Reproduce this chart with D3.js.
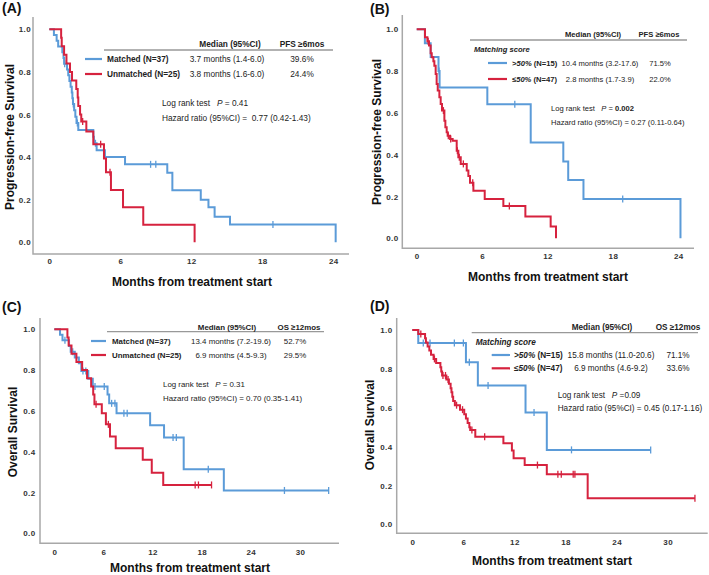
<!DOCTYPE html>
<html>
<head>
<meta charset="utf-8">
<script src="https://cdn.jsdelivr.net/npm/d3@7"></script>
<style>
  body { margin: 0; background: #fff; }
  svg { display: block; font-family: "Liberation Sans", Arial, sans-serif; }
  text { white-space: pre; }
</style>
</head>
<body>
<svg id="chart" width="709" height="575"></svg>
<script>
// ---- data ----
var survivalTicks = [0, 0.2, 0.4, 0.6, 0.8, 1.0];
var pfsMonthTicks = [0, 6, 12, 18, 24];
var osMonthTicks = [0, 6, 12, 18, 24, 30];

// (A) PFS matched / unmatched  [month, survival] after each drop
var aMatchedSteps = [[0,1],[0.39,0.973],[0.62,0.946],[0.75,0.919],[1.1,0.892],[1.2,0.865],[1.25,0.838],[1.5,0.811],[1.6,0.784],[1.7,0.757],[1.8,0.73],[1.9,0.703],[1.95,0.676],[2.0,0.649],[2.1,0.62],[2.2,0.59],[2.3,0.56],[2.45,0.527],[3.72,0.495],[3.77,0.465],[4.0,0.432],[4.7,0.40],[6.4,0.366],[9.97,0.327],[10.4,0.244],[12.8,0.20],[13.45,0.164],[13.97,0.12],[15.27,0.083],[24.2,0]];
var aMatchedCensor = [1.3, 2.03, 2.37, 3.9, 8.56, 9.0, 18.9];
var aUnmatchedSteps = [[0,1],[1.0,0.96],[1.05,0.92],[1.25,0.88],[1.45,0.84],[1.75,0.80],[1.92,0.76],[2.28,0.72],[2.4,0.68],[2.45,0.64],[2.6,0.60],[2.7,0.567],[3.13,0.52],[3.72,0.46],[4.62,0.394],[4.79,0.329],[5.21,0.246],[6.23,0.164],[7.94,0.082],[12.28,0]];
var aUnmatchedCensor = [2.82, 4.34, 5.13];

// (B) PFS by matching score
var bHighSteps = [[0,1],[0.75,0.933],[1.28,0.867],[2.0,0.80],[2.1,0.722],[6.48,0.641],[10.46,0.458],[13.45,0.368],[13.9,0.279],[15.3,0.188],[24.2,0]];
var bHighCensor = [2.05, 9.0, 18.9];
var bLowSteps = [[0,1],[0.76,0.962],[0.98,0.943],[1.13,0.922],[1.28,0.885],[1.38,0.866],[1.53,0.847],[1.62,0.826],[1.74,0.786],[1.83,0.738],[1.93,0.707],[2.08,0.675],[2.2,0.643],[2.32,0.611],[2.54,0.563],[2.63,0.531],[2.75,0.507],[2.84,0.491],[3.06,0.475],[3.3,0.467],[3.67,0.419],[3.82,0.388],[4.04,0.356],[4.59,0.324],[4.74,0.298],[4.89,0.266],[5.2,0.228],[6.24,0.188],[7.95,0.155],[9.97,0.104],[12.29,0.056],[12.78,0]];
var bLowCensor = [1.05, 2.45, 2.9, 3.12, 3.73, 3.91, 4.28, 5.14, 8.5];

// (C) OS matched / unmatched
var cMatchedSteps = [[0,1],[0.7,0.973],[1.0,0.946],[1.8,0.918],[2.0,0.89],[2.5,0.862],[3.0,0.834],[3.3,0.795],[4.15,0.758],[4.7,0.72],[6.5,0.68],[6.7,0.637],[7.6,0.588],[11.7,0.53],[13.4,0.47],[15.8,0.314],[20.7,0.21]];
var cMatchedCensor = [1.3, 2.25, 3.5, 3.85, 4.97, 6.1, 7.0, 7.4, 8.5, 8.9, 14.5, 14.9, 18.8, 28.1, 33.5];
var cUnmatchedSteps = [[0,1],[1.6,0.96],[1.75,0.92],[2.1,0.88],[2.7,0.84],[3.4,0.80],[4.0,0.76],[4.5,0.72],[4.75,0.68],[4.9,0.632],[5.8,0.588],[6.3,0.534],[6.8,0.474],[7.5,0.417],[10.8,0.36],[11.9,0.297],[13.3,0.237]];
var cUnmatchedCensor = [5.1, 6.6, 17.2, 17.6, 19.2];

// (D) OS by matching score
var dHighSteps = [[0,1],[0.7,0.933],[6.3,0.834],[7.7,0.714],[13.3,0.575],[15.8,0.383]];
var dHighCensor = [1.29, 2.08, 4.94, 6.0, 6.7, 8.9, 14.3, 18.7, 28.0];
var dLowSteps = [[0,1],[0.7,0.979],[1.5,0.957],[1.6,0.936],[1.8,0.915],[2.0,0.894],[2.2,0.872],[2.5,0.851],[2.8,0.83],[3.3,0.808],[3.4,0.787],[3.5,0.766],[4.0,0.745],[4.3,0.723],[4.5,0.70],[4.6,0.68],[4.7,0.657],[4.8,0.635],[5.0,0.613],[5.6,0.59],[6.1,0.567],[6.3,0.545],[6.5,0.522],[6.7,0.50],[6.8,0.485],[7.4,0.451],[10.7,0.417],[11.7,0.38],[11.9,0.34],[13.2,0.305],[15.8,0.257],[20.6,0.134]];
var dLowCensor = [1.0, 2.6, 3.6, 3.9, 4.2, 5.2, 5.9, 7.0, 8.5, 14.7, 17.1, 17.5, 18.9, 19.1, 33.2];

// legend table text
var pfsHeaders = ["Median (95%CI)", "PFS \u22656mos"];
var osHeaders = ["Median (95%CI)", "OS \u226512mos"];
var aRows = [["Matched (N=37)", "3.7 months (1.4-6.0)", "39.6%"], ["Unmatched (N=25)", "3.8 months (1.6-6.0)", "24.4%"]];
var bRows = [[">50%", " (N=15)", "10.4 months (3.2-17.6)", "71.5%"], ["\u226450%", " (N=47)", "2.8 months (1.7-3.9)", "22.0%"]];
var cRows = [["Matched (N=37)", "13.4 months (7.2-19.6)", "52.7%"], ["Unmatched (N=25)", "6.9 months (4.5-9.3)", "29.5%"]];
var dRows = [[">50%", " (N=15)", "15.8 months (11.0-20.6)", "71.1%"], ["\u226450%", " (N=47)", "6.9 months (4.6-9.2)", "33.6%"]];
var aStats = [" = ", "0.41", "=  0.77 (0.42-1.43)"];
var bStats = [" = ", "0.002", "= 0.27 (0.11-0.64)"];
var cStats = [" = ", "0.31", "= 0.70 (0.35-1.41)"];
var dStats = [" =", "0.09", "= 0.45 (0.17-1.16)"];

var BLUE = "#5b9bd8";
var RED = "#d6223e";
var TEXT = "#222";

var svg = d3.select("#chart");

// survival value of a step curve at time t
function survAt(steps, t) {
    var s = 1;
    steps.forEach(function (p) { if (p[0] <= t) s = p[1]; });
    return s;
}

var panels = [
    { label: "(A)", lx: 2, ly: 13, axX: 33, axTop: 17, axBot: 254, axRight: 349,
      xr: [49.3, 333.3], xMax: 24, yr: [242.3, 29.3], xTicks: pfsMonthTicks,
      xTickY: 261, yTickX: 31, yTitle: "Progression-free Survival", ytX: 10, ytY: 137,
      xtX: 192, xtY: 286, fs: 8.3,
      series: [[aMatchedSteps, aMatchedCensor, BLUE], [aUnmatchedSteps, aUnmatchedCensor, RED]],
      headers: pfsHeaders, rows: aRows, stats: aStats, scored: false,
      hl: [104, 333, 50], hY: 47, hCols: [230, 302], rowY: [59, 74], samp: [85, 102],
      nameX: 107, medX: 227, pctX: 302, stX: 162, stY: [106, 121] },
    { label: "(B)", lx: 370, ly: 13.5, axX: 402.3, axTop: 15, axBot: 248.3, axRight: 694,
      xr: [416.7, 678.3], xMax: 24, yr: [238.3, 29.3], xTicks: pfsMonthTicks,
      xTickY: 256.7, yTickX: 398.5, yTitle: "Progression-free Survival", ytX: 377, ytY: 132,
      xtX: 548, xtY: 280.5, fs: 7.6,
      series: [[bHighSteps, bHighCensor, BLUE], [bLowSteps, bLowCensor, RED]],
      headers: pfsHeaders, rows: bRows, stats: bStats, scored: true,
      hl: [470, 687, 40], hY: 37, hCols: [593, 659], rowY: [63, 79], samp: [488, 507],
      groupX: 474, groupY: 52, nameX: 512, medX: 600, pctX: 660, stX: 551, stY: [111, 125] },
    { label: "(C)", lx: 2, ly: 311.5, axX: 40, axTop: 318, axBot: 543.3, axRight: 339,
      xr: [54.3, 300], xMax: 30, yr: [533.3, 329.3], xTicks: osMonthTicks,
      xTickY: 552.3, yTickX: 35.5, yTitle: "Overall Survival", ytX: 13, ytY: 432,
      xtX: 190, xtY: 571.5, fs: 7.9,
      series: [[cMatchedSteps, cMatchedCensor, BLUE], [cUnmatchedSteps, cUnmatchedCensor, RED]],
      headers: osHeaders, rows: cRows, stats: cStats, scored: false,
      hl: [107, 324, 331.7], hY: 329.5, hCols: [227, 299], rowY: [341, 355], samp: [91, 106],
      nameX: 112, medX: 231, pctX: 295, stX: 163, stY: [386.7, 400.7] },
    { label: "(D)", lx: 370, ly: 310.5, axX: 396.7, axTop: 318, axBot: 533.3, axRight: 707.7,
      xr: [412.3, 667.7], xMax: 30, yr: [524.3, 330], xTicks: osMonthTicks,
      xTickY: 542.3, yTickX: 392.5, yTitle: "Overall Survival", ytX: 370, ytY: 425,
      xtX: 552, xtY: 564.5, fs: 8.2,
      series: [[dHighSteps, dHighCensor, BLUE], [dLowSteps, dLowCensor, RED]],
      headers: osHeaders, rows: dRows, stats: dStats, scored: true,
      hl: [471.7, 698, 332.7], hY: 330, hCols: [602, 678], rowY: [355, 368.3], samp: [491.7, 510],
      groupX: 475.7, groupY: 344.7, nameX: 514, medX: 611, pctX: 678, stX: 557.7, stY: [398, 411.3] }
];

panels.forEach(function (p) {
    var g = svg.append("g");
    var x = d3.scaleLinear().domain([0, p.xMax]).range(p.xr);
    var y = d3.scaleLinear().domain([0, 1]).range(p.yr);

    // panel letter
    g.append("text").attr("x", p.lx).attr("y", p.ly)
        .attr("font-size", 14).attr("font-weight", "bold").attr("fill", "#111").text(p.label);

    // axis lines (left + bottom only)
    g.append("path")
        .attr("d", "M" + p.axX + "," + p.axTop + "V" + p.axBot + "H" + p.axRight)
        .attr("fill", "none").attr("stroke", "#a8a8a8").attr("stroke-width", 1.5);

    var fmt = d3.format(".1f");
    var yAxis = g.append("g").attr("transform", "translate(" + p.yTickX + ",0)")
        .call(d3.axisLeft(y).tickValues(survivalTicks).tickSize(0).tickPadding(0).tickFormat(fmt));
    var xAxis = g.append("g").attr("transform", "translate(0," + (p.xTickY - 2.9) + ")")
        .call(d3.axisBottom(x).tickValues(p.xTicks).tickSize(0).tickPadding(0));
    [yAxis, xAxis].forEach(function (a) {
        a.select(".domain").remove();
        a.selectAll("text").attr("font-family", "\"Liberation Sans\", Arial, sans-serif")
            .attr("font-size", 8).attr("font-weight", "bold").attr("fill", "#333")
            .attr("letter-spacing", 0.4);
    });

    // axis titles
    g.append("text").attr("x", p.xtX).attr("y", p.xtY).attr("text-anchor", "middle")
        .attr("font-size", 12).attr("font-weight", "bold").attr("fill", "#111")
        .text("Months from treatment start");
    g.append("text").attr("transform", "translate(" + p.ytX + "," + p.ytY + ") rotate(-90)")
        .attr("text-anchor", "middle").attr("dominant-baseline", "central")
        .attr("font-size", 12).attr("font-weight", "bold").attr("fill", "#111")
        .text(p.yTitle);

    // KM step curves + censor ticks
    var line = d3.line().curve(d3.curveStepAfter)
        .x(function (d) { return x(d[0]); })
        .y(function (d) { return y(d[1]); });

    p.series.forEach(function (s) {
        var steps = s[0], cens = s[1], col = s[2];
        var pts = steps.slice();
        var last = steps[steps.length - 1];
        var lastCens = d3.max(cens);
        if (lastCens > last[0]) pts.push([lastCens, last[1]]);
        g.append("path").datum(pts).attr("d", line)
            .attr("fill", "none").attr("stroke", col).attr("stroke-width", 2)
            .attr("stroke-linejoin", "miter");
        g.selectAll(null).data(cens).enter().append("line")
            .attr("x1", function (t) { return x(t); })
            .attr("x2", function (t) { return x(t); })
            .attr("y1", function (t) { return y(survAt(steps, t)) - 3.5; })
            .attr("y2", function (t) { return y(survAt(steps, t)) + 3.5; })
            .attr("stroke", col).attr("stroke-width", 1.3);
    });

    // legend table
    var fs = p.fs;
    g.append("line").attr("x1", p.hl[0]).attr("x2", p.hl[1]).attr("y1", p.hl[2]).attr("y2", p.hl[2])
        .attr("stroke", "#999").attr("stroke-width", 1.3);
    p.headers.forEach(function (h, i) {
        g.append("text").attr("x", p.hCols[i]).attr("y", p.hY).attr("text-anchor", "middle")
            .attr("font-size", fs).attr("font-weight", "bold").attr("fill", TEXT).text(h);
    });
    if (p.scored) {
        g.append("text").attr("x", p.groupX).attr("y", p.groupY)
            .attr("font-size", fs).attr("font-weight", "bold").attr("font-style", "italic")
            .attr("fill", TEXT).text("Matching score");
    }
    var cols = [BLUE, RED];
    p.rows.forEach(function (r, i) {
        var ry = p.rowY[i];
        g.append("line").attr("x1", p.samp[0]).attr("x2", p.samp[1]).attr("y1", ry).attr("y2", ry)
            .attr("stroke", cols[i]).attr("stroke-width", 2.2);
        var name = g.append("text").attr("x", p.nameX).attr("y", ry + 3)
            .attr("font-size", fs).attr("font-weight", "bold").attr("fill", TEXT);
        if (p.scored) {
            name.append("tspan").attr("font-style", "italic").text(r[0]);
            name.append("tspan").text(r[1]);
        } else {
            name.text(r[0]);
        }
        var k = p.scored ? 2 : 1;
        g.append("text").attr("x", p.medX).attr("y", ry + 3).attr("text-anchor", "middle")
            .attr("font-size", fs).attr("fill", TEXT).text(r[k]);
        g.append("text").attr("x", p.pctX).attr("y", ry + 3).attr("text-anchor", "middle")
            .attr("font-size", fs).attr("fill", TEXT).text(r[k + 1]);
    });

    // log rank + hazard ratio
    var lr = g.append("text").attr("x", p.stX).attr("y", p.stY[0])
        .attr("font-size", fs).attr("fill", TEXT);
    lr.append("tspan").text("Log rank test   ");
    lr.append("tspan").attr("font-style", "italic").text("P");
    lr.append("tspan").text(p.stats[0]);
    lr.append("tspan").attr("font-weight", p.label === "(B)" ? "bold" : "normal").text(p.stats[1]);
    g.append("text").attr("x", p.stX).attr("y", p.stY[1])
        .attr("font-size", fs).attr("fill", TEXT)
        .text("Hazard ratio (95%CI) " + p.stats[2]);
});
</script>
</body>
</html>
